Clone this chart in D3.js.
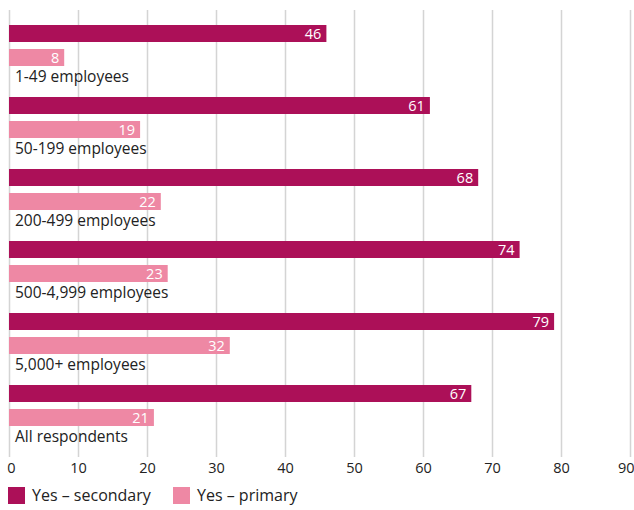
<!DOCTYPE html>
<html><head><meta charset="utf-8">
<script src="https://cdn.jsdelivr.net/npm/d3@7"></script>
<style>body{margin:0;background:#fff}svg{display:block}text{font-family:"Open Sans",sans-serif}</style>
</head><body><svg id="c" width="634" height="510"></svg>
<script>
const categories = ["1-49 employees","50-199 employees","200-499 employees","500-4,999 employees","5,000+ employees","All respondents"];
const secondary = [46,61,68,74,79,67];
const primary = [8,19,22,23,32,21];
const seriesNames = ["Yes \u2013 secondary","Yes \u2013 primary"];
const tickValues = [0,10,20,30,40,50,60,70,80,90];
const colors = ["#AC1058","#EE88A4"];

const svg = d3.select("#c");
const x = d3.scaleLinear().domain([0,90]).range([9,630]);
const y = d3.scaleBand().domain(categories).range([25,25+72*categories.length]).paddingInner(0);
const barH = 17;

// gridlines
svg.append("g").selectAll("line").data(tickValues).join("line")
  .attr("x1",d=>Math.round(x(d))+0.5).attr("x2",d=>Math.round(x(d))+0.5)
  .attr("y1",10).attr("y2",457).attr("stroke","#d4d4d4").attr("stroke-width",1.5);

// axis labels
const ax = d3.axisBottom(x).tickValues(tickValues).tickSize(0).tickPadding(0);
const axg = svg.append("g").attr("transform","translate(0,460)").call(ax);
axg.select(".domain").remove();
axg.selectAll("text").attr("font-size",14.5).attr("fill","#222").attr("font-family","Open Sans, sans-serif").attr("dy","0.9em")
  .attr("text-anchor",d=>d===90?"end":"middle").attr("dx",d=>d===90?4:(d===0?2:0));

const g = svg.append("g");
categories.forEach((c,i)=>{
  const top = y(c);
  [[secondary[i],0],[primary[i],1]].forEach(([v,k])=>{
    const yy = top + k*24;
    g.append("rect").attr("x",x(0)).attr("y",yy).attr("width",x(v)-x(0)).attr("height",barH).attr("fill",colors[k]);
    g.append("text").attr("x",x(v)-5).attr("y",yy+barH/2).attr("dy","0.36em")
      .attr("text-anchor","end").attr("fill","#fff").attr("font-size",14.5).text(v);
  });
  g.append("text").attr("x",15).attr("y",top+57).attr("fill","#222").attr("font-size",15.5).text(c);
});

// legend
const leg = svg.append("g");
const lx = [8,173];
seriesNames.forEach((n,k)=>{
  leg.append("rect").attr("x",lx[k]).attr("y",487).attr("width",17).attr("height",17).attr("fill",colors[k]);
  leg.append("text").attr("x",lx[k]+24).attr("y",501).attr("fill","#222").attr("font-size",16).text(n);
});
</script></body></html>
